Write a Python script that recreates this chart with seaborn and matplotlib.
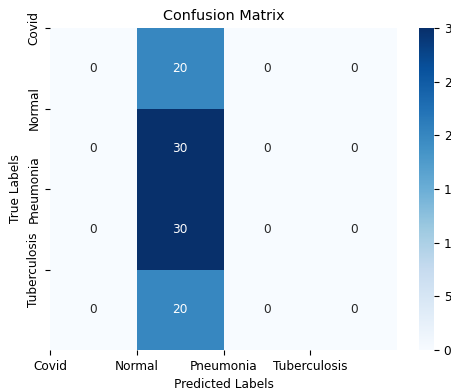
import numpy as np
import pandas as pd
import seaborn as sns
import matplotlib
matplotlib.use('Agg')
import matplotlib.pyplot as plt

class_names = ['Covid', 'Normal', 'Pneumonia', 'Tuberculosis']
row_covid = [0, 20, 0, 0]
row_normal = [0, 30, 0, 0]
row_pneumonia = [0, 30, 0, 0]
row_tuberculosis = [0, 20, 0, 0]

cm = pd.DataFrame([row_covid, row_normal, row_pneumonia, row_tuberculosis],
                  index=class_names, columns=class_names)

plt.rcParams['font.size'] = 8.7
plt.rcParams['xtick.labelsize'] = 8.7
plt.rcParams['ytick.labelsize'] = 8.7
plt.rcParams['axes.labelsize'] = 8.7
plt.rcParams['axes.titlesize'] = 10.4

fig = plt.figure(figsize=(4.52, 3.9), dpi=100)
W, H = 452, 390
ax = fig.add_axes([50 / W, 1 - 350 / H, (397 - 50) / W, (350 - 28) / H])
cax = fig.add_axes([419 / W, 1 - 350 / H, (434 - 419) / W, (350 - 28) / H])

sns.heatmap(cm, annot=True, fmt='d', cmap='Blues', ax=ax, cbar_ax=cax)

# ticks placed at the cell edges, as in the original
ax.set_xticks(range(len(class_names)))
ax.set_xticklabels(class_names, rotation=0)
ax.set_yticks(range(len(class_names)))
ax.set_yticklabels(class_names, rotation=90, va='center')

ax.set_xlabel('Predicted Labels')
ax.set_ylabel('True Labels')
ax.set_title('Confusion Matrix')

fig.savefig('out.png', dpi=100)
